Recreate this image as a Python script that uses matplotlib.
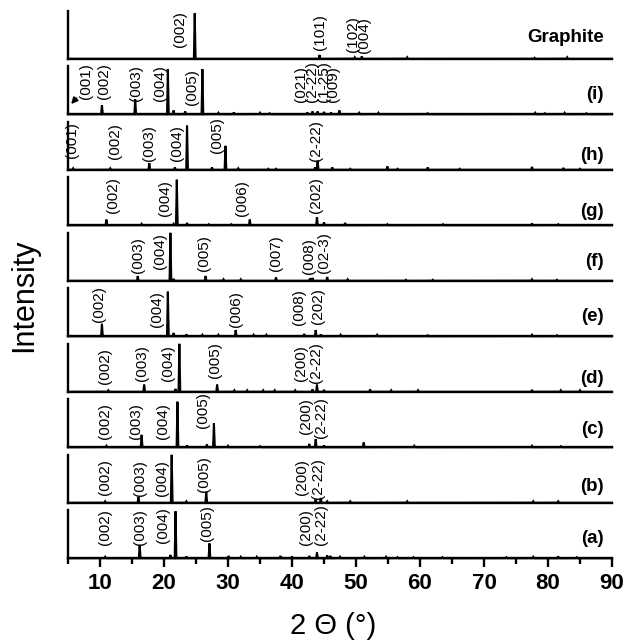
import matplotlib
matplotlib.use("Agg")
import matplotlib.pyplot as plt
from matplotlib.ticker import MultipleLocator
import numpy as np

plt.rcParams['font.family'] = ['Liberation Sans', 'DejaVu Sans']

# ---- XRD peak lists (2theta in degrees, normalised intensity) ----
tags = ["(a)", "(b)", "(c)", "(d)", "(e)", "(f)", "(g)", "(h)", "(i)", "Graphite"]

pos_a = [10.8, 16.2, 21.0, 21.8, 23.5, 27.1, 30.1, 32.0, 34.5, 38.2, 40.0, 42.7, 43.9, 45.5,
         46.0, 47.5, 51.3, 54.7, 56.5, 59.0, 63.5, 73.5, 77.7, 81.6, 84.5]
int_a = [0.03, 0.28, 0.07, 0.98, 0.04, 0.31, 0.05, 0.03, 0.03, 0.05, 0.04, 0.05, 0.12, 0.06,
         0.05, 0.03, 0.03, 0.03, 0.02, 0.02, 0.02, 0.02, 0.03, 0.04, 0.02]

pos_b = [10.8, 16.0, 21.2, 23.5, 26.6, 43.7, 44.5, 45.5, 49.1, 58.0, 77.7, 81.6]
int_b = [0.03, 0.12, 1.00, 0.03, 0.23, 0.08, 0.10, 0.03, 0.03, 0.03, 0.03, 0.03]

pos_c = [11.0, 16.5, 22.1, 23.6, 26.7, 27.8, 30.0, 35.0, 42.7, 43.7, 45.0, 51.2, 59.1, 77.5, 82.0]
int_c = [0.03, 0.26, 0.95, 0.04, 0.06, 0.50, 0.03, 0.02, 0.07, 0.17, 0.04, 0.10, 0.03, 0.03, 0.02]

pos_d = [11.3, 16.9, 21.8, 22.4, 28.3, 31.0, 33.0, 35.5, 37.3, 40.5, 43.2, 43.9, 45.0, 52.2,
         55.5, 59.7, 77.5, 82.0, 85.0]
int_d = [0.03, 0.15, 0.06, 1.00, 0.15, 0.03, 0.03, 0.03, 0.03, 0.03, 0.05, 0.15, 0.04, 0.05,
         0.03, 0.03, 0.04, 0.03, 0.03]

pos_e = [10.3, 20.6, 21.5, 23.5, 26.0, 28.5, 31.2, 34.0, 36.0, 41.9, 43.7, 44.5, 47.6, 53.3,
         61.2, 77.5, 81.4]
int_e = [0.26, 0.93, 0.07, 0.04, 0.03, 0.03, 0.13, 0.03, 0.03, 0.05, 0.13, 0.04, 0.03, 0.03,
         0.02, 0.03, 0.02]

pos_f = [15.9, 21.0, 21.5, 26.5, 29.3, 32.0, 37.5, 42.8, 43.2, 45.5, 48.7, 57.8, 62.0, 77.5, 81.4]
int_f = [0.10, 1.00, 0.04, 0.10, 0.03, 0.03, 0.07, 0.05, 0.06, 0.08, 0.03, 0.02, 0.02, 0.03, 0.02]

pos_g = [11.0, 16.5, 21.5, 22.0, 23.6, 27.0, 30.5, 33.4, 43.9, 45.0, 48.3, 54.9, 63.6, 77.5, 81.6]
int_g = [0.12, 0.03, 0.03, 0.95, 0.05, 0.02, 0.02, 0.12, 0.17, 0.06, 0.05, 0.02, 0.02, 0.04, 0.02]

pos_h = [5.8, 11.6, 17.7, 21.7, 23.6, 27.5, 29.6, 31.6, 36.3, 37.5, 43.6, 44.0, 46.3, 49.1,
         54.9, 56.5, 61.2, 66.2, 77.5, 82.4, 85.0]
int_h = [0.03, 0.03, 0.14, 0.05, 0.92, 0.05, 0.50, 0.03, 0.02, 0.02, 0.05, 0.19, 0.05, 0.02,
         0.07, 0.02, 0.05, 0.02, 0.06, 0.04, 0.02]

pos_i = [10.3, 15.5, 20.6, 21.5, 23.3, 26.0, 28.5, 30.9, 35.0, 36.5, 42.4, 43.2, 44.0, 45.0,
         46.1, 47.4, 50.5, 53.5, 61.2, 78.0, 79.5, 82.6, 86.0]
int_i = [0.19, 0.31, 0.94, 0.08, 0.06, 0.94, 0.03, 0.04, 0.03, 0.02, 0.04, 0.06, 0.06, 0.05,
         0.04, 0.08, 0.03, 0.03, 0.02, 0.03, 0.02, 0.03, 0.02]

pos_gr = [24.8, 44.3, 49.8, 50.9, 58.0, 77.9, 83.0]
int_gr = [0.95, 0.08, 0.03, 0.05, 0.03, 0.02, 0.03]

positions = [pos_a, pos_b, pos_c, pos_d, pos_e, pos_f, pos_g, pos_h, pos_i, pos_gr]
intensities = [int_a, int_b, int_c, int_d, int_e, int_f, int_g, int_h, int_i, int_gr]

# ---- Miller-index annotations: (text, 2theta of label) ----
hkl_a = [("(002)", 10.8), ("(003)", 16.3), ("(004)", 19.9), ("(005)", 26.7), ("(200)", 42.2), ("(2-22)", 44.5)]
hkl_b = [("(002)", 10.8), ("(003)", 16.2), ("(004)", 19.7), ("(005)", 26.2), ("(200)", 41.6), ("(2-22)", 44.0)]
hkl_c = [("(002)", 10.8), ("(003)", 15.6), ("(004)", 19.9), ("(005)", 26.1), ("(200)", 42.2), ("(2-22)", 44.5)]
hkl_d = [("(002)", 10.8), ("(003)", 16.5), ("(004)", 20.6), ("(005)", 27.9), ("(200)", 41.4), ("(2-22)", 43.7)]
hkl_e = [("(002)", 9.9), ("(004)", 18.9), ("(006)", 31.2), ("(008)", 41.1), ("(202)", 44.0)]
hkl_f = [("(003)", 15.9), ("(004)", 19.3), ("(005)", 26.3), ("(007)", 37.45), ("(008)", 42.7), ("(02-3)", 45.0)]
hkl_g = [("(002)", 12.1), ("(004)", 20.2), ("(006)", 32.2), ("(202)", 43.7)]
hkl_h = [("(001)", 5.6), ("(002)", 12.35), ("(003)", 17.7), ("(004)", 22.1), ("(005)", 28.3), ("(2-22)", 43.7)]
hkl_i = [("(001)", 7.75), ("(002)", 10.7), ("(003)", 15.6), ("(004)", 19.3), ("(005)", 24.4),
         ("(021)", 41.4), ("(2-22)", 43.2), ("(1-25)", 45.0), ("(009)", 46.4)]
hkl_gr = [("(002)", 22.5), ("(101)", 44.4), ("(102)", 49.5), ("(004)", 51.3)]

hkl_sets = [hkl_a, hkl_b, hkl_c, hkl_d, hkl_e, hkl_f, hkl_g, hkl_h, hkl_i, hkl_gr]

# label lift above each panel baseline, in pixels
lift_a = [13, 13, 15, 17, 13, 13]
lift_b = [8, 7, 7, 11, 8, 4]
lift_c = [8, 8, 8, 19, 13, 9]
lift_d = [8, 11, 11, 14, 11, 9]
lift_e = [14, 9, 9, 11, 12]
lift_f = [8, 12, 10, 10, 7, 8]
lift_g = [12, 9, 9, 12]
lift_h = [12, 11, 9, 9, 17, 9]
lift_i = [15, 15, 13, 13, 9, 12, 12, 12, 12]
lift_gr = [12, 9, 7, 6]
lifts = [lift_a, lift_b, lift_c, lift_d, lift_e, lift_f, lift_g, lift_h, lift_i, lift_gr]
tag_lift = [11, 8, 9, 5, 11, 11, 5, 6, 11, 13]

# ---- figure layout (pixel based) ----
W, H = 626, 642
fig = plt.figure(figsize=(W / 100, H / 100), dpi=100)
x_left, x_right = 68, 612
base0 = 558.3          # bottom panel baseline (px from top)
step = 55.5            # spacing between panel baselines
panel_h = 48           # panel height in px

tt = np.arange(5.0, 90.0001, 0.01)
half_w = 0.13

def trace(pos, inten):
    y = np.zeros_like(tt)
    for p, h in zip(pos, inten):
        y = np.maximum(y, h * np.clip(1 - np.abs(tt - p) / half_w, 0, None))
    return y

lw_axis = 1.7
for k in range(10):
    base = base0 - k * step
    ax = fig.add_axes([x_left / W, (H - base) / H, (x_right - x_left) / W, panel_h / H])
    ax.plot(tt, trace(positions[k], intensities[k]), color='black', lw=1.5, clip_on=False,
            solid_joinstyle='miter')
    ax.set_xlim(5, 90)
    ax.set_ylim(0, 1)
    ax.set_yticks([])
    for s in ('top', 'right'):
        ax.spines[s].set_visible(False)
    for s in ('left', 'bottom'):
        ax.spines[s].set_linewidth(lw_axis)
    ax.patch.set_visible(False)

    for (txt, xp), dy in zip(hkl_sets[k], lifts[k]):
        ax.annotate(txt, xy=(xp, 0), xycoords=('data', 'axes fraction'),
                    xytext=(0, dy), textcoords='offset pixels',
                    rotation=90, ha='center', va='bottom', fontsize=11)

    ax.annotate(tags[k], xy=(1, 0), xycoords='axes fraction',
                xytext=(-8, tag_lift[k]), textcoords='offset pixels',
                ha='right', va='bottom', fontsize=13.5, fontweight='bold')

    if k == 0:
        ax.xaxis.set_minor_locator(MultipleLocator(5))
        ax.set_xticks([10, 20, 30, 40, 50, 60, 70, 80, 90])
        ax.tick_params(axis='x', which='major', direction='out', length=6.5, width=lw_axis,
                       labelsize=16, pad=4)
        ax.tick_params(axis='x', which='minor', direction='out', length=4.5, width=lw_axis)
        for lab in ax.get_xticklabels():
            lab.set_fontweight('bold')
    else:
        ax.tick_params(axis='x', which='both', bottom=False, labelbottom=False)

    if k == 8:
        ax.annotate('', xy=(5.2, 0.17), xycoords='data', xytext=(6.6, 0.38),
                    arrowprops=dict(arrowstyle='-|>', color='black', lw=1.3,
                                    mutation_scale=9))

fig.text(333 / W, 1 - 626 / H, "2 Θ (°)", ha='center', va='center', fontsize=21)
fig.text(24 / W, 1 - 295 / H, "Intensity", ha='center', va='center', rotation=90, fontsize=22)

fig.savefig("out.png", dpi=100)
